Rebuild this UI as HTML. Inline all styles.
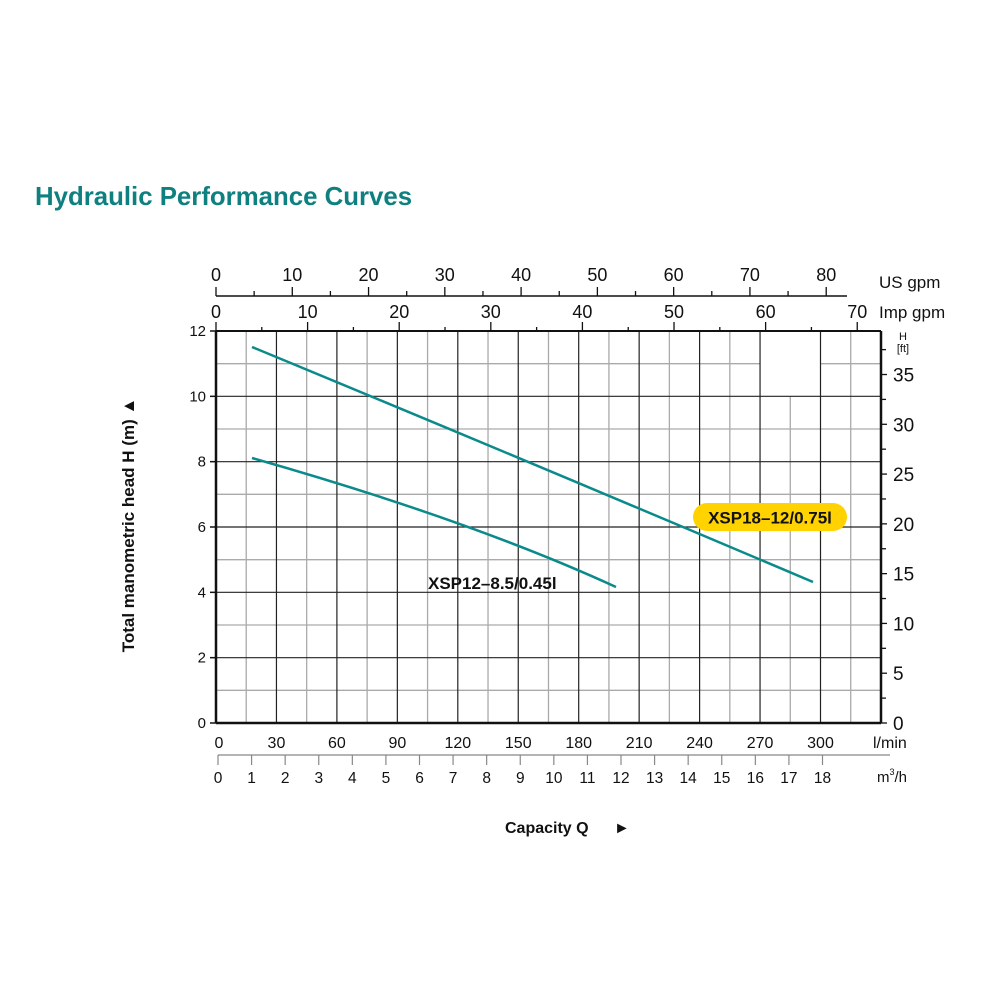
<!DOCTYPE html>
<html><head><meta charset="utf-8"><style>
html,body{margin:0;padding:0;background:#fff;}
svg{display:block;font-family:"Liberation Sans",Arial,sans-serif;}
</style></head><body>
<svg id="s" width="1000" height="1000" viewBox="0 0 1000 1000" xmlns="http://www.w3.org/2000/svg">
<text x="35" y="205" font-size="25.8" font-weight="bold" fill="#0f8080">Hydraulic Performance Curves</text>
<g id="g"></g>
<path d="M252,347 Q530,462 813,582" fill="none" stroke="#0a8a8a" stroke-width="2.5"/>
<path d="M252,458 Q470,520 616,587" fill="none" stroke="#0a8a8a" stroke-width="2.5"/>
<rect x="693" y="503" width="154" height="28" rx="14" fill="#ffd200"/>
<text x="770" y="523.5" font-size="17" font-weight="bold" text-anchor="middle" fill="#111">XSP18–12/0.75l</text>
<text x="428" y="589" font-size="17" font-weight="bold" fill="#111">XSP12–8.5/0.45l</text>
<text transform="translate(134,525) rotate(-90)" font-size="17" font-weight="bold" text-anchor="middle" fill="#111">Total manometric head H (m) ▲</text>
<text x="505" y="833" font-size="16" font-weight="bold" fill="#111">Capacity Q</text>
<text x="614" y="833" font-size="16" font-weight="bold" fill="#111">►</text>
<text x="879" y="288" font-size="17" fill="#111">US gpm</text>
<text x="879" y="318" font-size="17" fill="#111">Imp gpm</text>
<text x="873" y="748" font-size="16" fill="#111">l/min</text>
<text x="877" y="782" font-size="15" fill="#111">m<tspan font-size="9" dy="-7">3</tspan><tspan dy="7">/h</tspan></text>
<text x="903" y="340" font-size="11" text-anchor="middle" fill="#111">H</text>
<text x="903" y="352" font-size="11" text-anchor="middle" fill="#111">[ft]</text>
</svg>
<script>
var g=document.getElementById('g'),h='';
var L=216,R=881,T=331,B=723,ppm=(B-T)/12,ppl=604.5/300;
function ln(x1,y1,x2,y2,c,w){h+='<line x1="'+x1+'" y1="'+y1+'" x2="'+x2+'" y2="'+y2+'" stroke="'+c+'" stroke-width="'+w+'"/>';}
function tx(x,y,s,fs,a){h+='<text x="'+x+'" y="'+y+'" font-size="'+fs+'" text-anchor="'+(a||'middle')+'" fill="#111">'+s+'</text>';}
for(var i=1;i<12;i+=2){var y=B-i*ppm;ln(L,y,R,y,'#aaa',1.3);}
for(var q=15;q<330;q+=30){var x=L+q*ppl;ln(x,T,x,B,'#aaa',1.3);}
h+='<rect x="760" y="332" width="60" height="64" fill="#fff"/>';
for(var i=2;i<12;i+=2){var y=B-i*ppm;ln(L,y,R,y,'#222',1.2);}
for(var q=30;q<=300;q+=30){var x=L+q*ppl;ln(x,T,x,B,'#222',1.2);}
ln(L,T,R,T,'#111',2);ln(L,B,R,B,'#111',2.5);ln(L,T,L,B,'#111',2.5);ln(R,T,R,B,'#111',2.5);
for(var i=0;i<=12;i+=2){var y=B-i*ppm;ln(L-6,y,L,y,'#111',1.5);tx(206,y+5,i,15,'end');}
var ppf=0.3048*ppm;
for(var f=0;f<=37.5;f+=2.5){var y=B-f*ppf;var maj=(f%5==0);ln(R,y,R+(maj?6:5),y,'#111',1.3);if(maj&&f<=35)tx(893,y+7,f,19,'start');}
for(var q=0;q<=300;q+=30){tx(L+q*ppl+(q==0?3:0),748,q,16);}
ln(218,755,890,755,'#888',1.2);
for(var m=0;m<=18;m++){var x=218+m*(1000/60)*ppl;ln(x,755,x,765,'#888',1.2);tx(x,783,m,15.5);}
ln(L,296,847,296,'#111',1.5);
var pu=3.78541*ppl;
for(var u=0;u<=82;u+=5){var x=L+u*pu;ln(x,u%10==0?287:291,x,296,'#111',1.3);if(u%10==0)tx(x,281,u,18);}
var pi=4.54609*ppl;
for(var u=0;u<=72;u+=5){var x=L+u*pi;ln(x,u%10==0?322:327,x,T,'#111',1.3);if(u%10==0)tx(x,318,u,18);}
g.innerHTML=h;
</script>
</body></html>
